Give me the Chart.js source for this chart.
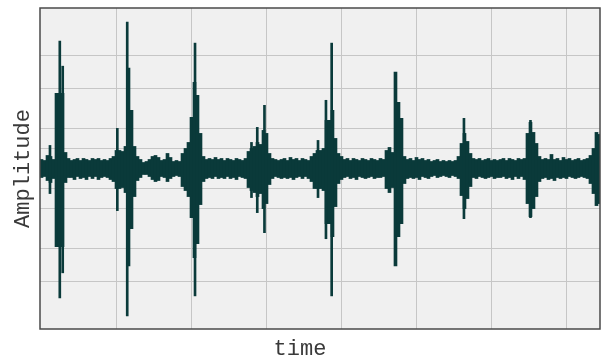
<!DOCTYPE html>
<html><head><meta charset="utf-8">
<script src="https://cdn.jsdelivr.net/npm/chart.js@4/dist/chart.umd.min.js"></script>
<style>html,body{margin:0;padding:0;background:#fff;}#wrap{width:602px;height:363px;}</style>
</head><body><div id="wrap"><canvas id="c" width="602" height="363"></canvas></div>
<script>
// Envelope of the waveform, one column per 0.04 s (upper / lower amplitude)
const upper = [
 9,8,13,12,9,75,75,75,16,10,
 8,9,10,8,10,9,8,10,9,10,
 8,9,8,10,12,18,18,17,22,100,
 58,22,12,9,6,7,9,12,13,11,
 8,9,15,11,7,8,7,15,20,26,
 51,86,73,35,12,9,10,9,11,9,
 10,8,10,9,8,10,9,8,10,17,
 20,22,26,24,38,35,15,10,9,8,
 9,10,8,11,9,10,8,10,9,8,
 12,15,18,18,20,48,48,58,30,15,
 12,9,10,8,10,9,8,10,9,8,
 10,9,8,10,9,18,21,16,96,66,
 50,12,9,10,8,11,9,10,8,9,
 7,8,9,7,8,7,8,7,8,12,
 25,35,27,15,10,9,10,8,9,10,
 8,9,8,9,10,8,10,9,8,10,
 9,10,35,46,36,25,12,9,10,9,
 14,9,10,8,11,9,10,8,9,10,
 8,9,10,13,20,36,34
];
const lower = [
 -9,-8,-12,-14,-10,-78,-78,-78,-14,-9,
 -9,-11,-8,-10,-9,-11,-8,-10,-8,-11,
 -9,-8,-9,-11,-13,-20,-20,-19,-24,-97,
 -60,-28,-12,-9,-6,-6,-8,-11,-13,-12,
 -8,-9,-13,-10,-8,-7,-8,-18,-22,-28,
 -49,-89,-75,-36,-13,-10,-9,-10,-8,-10,
 -9,-10,-8,-10,-9,-11,-8,-9,-10,-19,
 -22,-24,-28,-25,-40,-35,-16,-10,-8,-9,
 -10,-9,-10,-9,-11,-9,-8,-10,-8,-10,
 -13,-20,-20,-20,-22,-55,-55,-68,-38,-15,
 -11,-9,-8,-10,-9,-11,-8,-9,-10,-9,
 -8,-10,-9,-9,-8,-20,-24,-19,-97,-68,
 -55,-15,-10,-9,-10,-9,-11,-8,-9,-10,
 -8,-7,-9,-8,-7,-8,-9,-7,-8,-10,
 -27,-40,-30,-18,-9,-10,-8,-9,-10,-9,
 -8,-10,-9,-9,-8,-10,-9,-11,-8,-10,
 -8,-11,-35,-48,-40,-28,-13,-10,-9,-11,
 -10,-12,-9,-10,-9,-10,-8,-9,-10,-9,
 -8,-9,-10,-15,-25,-37,-35
];
const sampleStep = 0.04; // seconds per envelope column
const times = upper.map((_, i) => +(i * sampleStep).toFixed(2));

// Narrow peaks (time in s, upper, lower)
const spikeTimes = [0.113, 0.244, 0.283, 1.011, 1.143, 2.047, 2.8, 2.877, 2.973, 3.687, 3.793, 3.869, 5.633, 6.52];
const spikeUpper = [23, 127, 102, 40, 146, 125, 26, 41, 63, 28, 68, 125, 50, 48];
const spikeLower = [-25, -129, -104, -42, -147, -127, -29, -44, -64, -29, -70, -127, -50, -49];

const xGridTicks = [1, 2, 3, 4, 5, 6, 7];
const yGridTicks = [-113, -80, -40, -20, 20, 40, 80, 113];
const xLabel = 'time';
const yLabel = 'Amplitude';

const waveColor = '#0a3a3a';
const labelFont = {family: "'Liberation Mono', 'DejaVu Sans Mono', monospace", size: 22, weight: 'normal', lineHeight: 1};

const framePlugin = {
  id: 'frame',
  beforeDraw(chart) {
    const {ctx, chartArea: a} = chart;
    ctx.save();
    ctx.fillStyle = '#f0f0f0';
    ctx.fillRect(a.left, a.top, a.right - a.left, a.bottom - a.top);
    ctx.restore();
  },
  afterDatasetsDraw(chart) {
    const {ctx, chartArea: a} = chart;
    ctx.save();
    ctx.strokeStyle = '#4a4a4a';
    ctx.lineWidth = 1.5;
    ctx.strokeRect(a.left, a.top, a.right - a.left, a.bottom - a.top);
    ctx.restore();
  }
};

new Chart(document.getElementById('c'), {
  type: 'bar',
  data: {
    datasets: [
      {
        data: times.map((t, i) => ({x: t, y: [lower[i], upper[i]]})),
        backgroundColor: waveColor,
        borderWidth: 0,
        barThickness: 3,
        grouped: false,
        borderSkipped: false
      },
      {
        data: spikeTimes.map((t, i) => ({x: t, y: [spikeLower[i], spikeUpper[i]]})),
        backgroundColor: waveColor,
        borderWidth: 0,
        barThickness: 2,
        grouped: false,
        borderSkipped: false
      }
    ]
  },
  options: {
    responsive: false,
    animation: false,
    devicePixelRatio: 1,
    layout: {padding: {top: 8, right: 2, left: 0, bottom: 0}},
    plugins: {
      legend: {display: false},
      tooltip: {enabled: false},
      title: {display: true, position: 'bottom', text: xLabel, color: '#3a3a3a', font: labelFont, padding: {top: 9, bottom: 3}}
    },
    scales: {
      x: {
        type: 'linear', min: -0.02, max: 7.447, offset: false,
        afterBuildTicks: s => { s.ticks = xGridTicks.map(v => ({value: v})); },
        afterFit: s => { s.height = 0; },
        ticks: {display: false},
        grid: {color: '#c6c6c6', lineWidth: 1, drawTicks: false, offset: false},
        border: {display: false}
      },
      y: {
        type: 'linear', min: -160, max: 160,
        afterBuildTicks: s => { s.ticks = yGridTicks.map(v => ({value: v})); },
        afterFit: s => { s.width = 40; },
        ticks: {display: false},
        grid: {color: '#c6c6c6', lineWidth: 1, drawTicks: false, offset: false},
        border: {display: false},
        title: {display: true, text: yLabel, color: '#3a3a3a', font: labelFont, padding: {top: 12, bottom: 0}}
      }
    }
  },
  plugins: [framePlugin]
});
</script>
</body></html>
